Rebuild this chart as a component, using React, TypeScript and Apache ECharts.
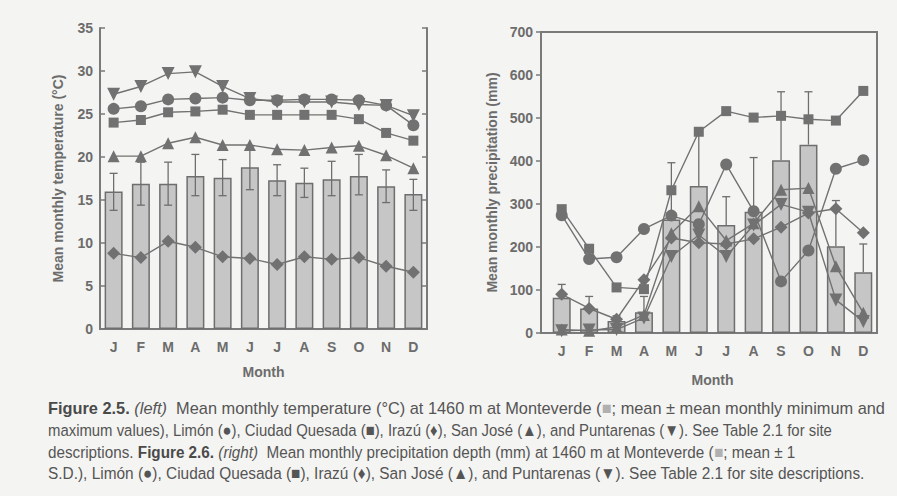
import React, { useEffect, useRef } from "react";
import * as echarts from "echarts";

const months = ["J", "F", "M", "A", "M", "J", "J", "A", "S", "O", "N", "D"];
const tempTicks = [0, 5, 10, 15, 20, 25, 30, 35];
const precipTicks = [0, 100, 200, 300, 400, 500, 600, 700];

// Figure 2.5 — temperature (°C)
const monteverdeTempMean = [16.0, 16.9, 16.9, 17.8, 17.6, 18.8, 17.3, 17.0, 17.4, 17.8, 16.6, 15.7];
const monteverdeTempMax = [18.1, 19.4, 19.4, 20.3, 19.7, 21.3, 19.1, 18.7, 19.5, 20.3, 18.5, 17.4];
const monteverdeTempMin = [13.8, 14.4, 14.4, 15.5, 15.5, 16.2, 15.5, 15.3, 15.5, 15.6, 14.7, 13.8];
const limonTemp = [25.6, 25.9, 26.7, 26.8, 26.9, 26.6, 26.6, 26.7, 26.7, 26.6, 26.0, 23.7];
const quesadaTemp = [24.0, 24.3, 25.2, 25.3, 25.5, 24.9, 24.9, 24.9, 24.9, 24.4, 22.8, 21.9];
const irazuTemp = [8.8, 8.3, 10.2, 9.5, 8.4, 8.2, 7.5, 8.4, 8.1, 8.3, 7.3, 6.6];
const sanJoseTemp = [20.1, 20.1, 21.6, 22.3, 21.4, 21.4, 20.9, 20.8, 21.1, 21.3, 20.2, 18.7];
const puntarenasTemp = [27.3, 28.2, 29.7, 29.9, 28.2, 26.8, 26.4, 26.4, 26.4, 26.1, 26.0, 24.8];

// Figure 2.6 — precipitation (mm)
const monteverdePrecipMean = [82, 57, 28, 48, 264, 342, 251, 282, 402, 438, 202, 141];
const monteverdePrecipUpper = [113, 85, 40, 85, 396, 470, 317, 408, 561, 561, 308, 207];
const limonPrecip = [274, 172, 176, 242, 273, 253, 392, 283, 120, 192, 382, 402];
const quesadaPrecip = [288, 196, 106, 102, 332, 468, 516, 501, 505, 497, 494, 563];
const irazuPrecip = [90, 57, 32, 124, 221, 210, 207, 219, 246, 279, 289, 233];
const sanJosePrecip = [8, 5, 14, 42, 232, 295, 215, 255, 333, 337, 155, 47];
const puntarenasPrecip = [5, 7, 8, 35, 178, 228, 178, 251, 299, 281, 77, 27];

const captionLines = [
  "{b|Figure 2.5.} {i|(left)}  Mean monthly temperature (°C) at 1460 m at Monteverde ({g|■}; mean ± mean monthly minimum and",
  "maximum values), Limón (●), Ciudad Quesada (■), Irazú (♦), San José (▲), and Puntarenas (▼). See Table 2.1 for site",
  "descriptions. {b|Figure 2.6.} {i|(right)}  Mean monthly precipitation depth (mm) at 1460 m at Monteverde ({g|■}; mean ± 1",
  "S.D.), Limón (●), Ciudad Quesada (■), Irazú (♦), San José (▲), and Puntarenas (▼). See Table 2.1 for site descriptions.",
];
const captionWidths = [837, 785, 747, 817];

const INK = "#6c6c6c";
const AXIS = "#7a7a7a";
const BAR = "#c6c6c6";
const FONT = '"Liberation Sans", Arial, sans-serif';
const CAPFONT = '"Liberation Sans", Arial, sans-serif';
const CAPSIZE = 17;

const labelStyle = { color: INK, fontFamily: FONT, fontWeight: "bold" as const, fontSize: 14 };

function lineSeries(name: string, data: number[], symbol: string, size: number, xi: number, yi: number, rotate = 0) {
  return {
    type: "line",
    name,
    data,
    xAxisIndex: xi,
    yAxisIndex: yi,
    symbol,
    symbolSize: size,
    symbolRotate: rotate,
    lineStyle: { color: "#727272", width: 1.4 },
    itemStyle: { color: "#717171" },
    z: 5,
  };
}

function errRender(bothCaps: boolean) {
  return (params: any, api: any) => {
    const i = api.value(0);
    const lo = api.coord([i, api.value(1)]);
    const hi = api.coord([i, api.value(2)]);
    const w = 4;
    const st = { stroke: "#6e6e6e", lineWidth: 1.3 };
    const children: any[] = [
      { type: "line", shape: { x1: lo[0], y1: lo[1], x2: hi[0], y2: hi[1] }, style: st },
      { type: "line", shape: { x1: hi[0] - w, y1: hi[1], x2: hi[0] + w, y2: hi[1] }, style: st },
    ];
    if (bothCaps) {
      children.push({ type: "line", shape: { x1: lo[0] - w, y1: lo[1], x2: lo[0] + w, y2: lo[1] }, style: st });
    }
    return { type: "group", children };
  };
}

function measureLine(ctx: CanvasRenderingContext2D, line: string) {
  let w = 0;
  const re = /\{(\w)\|([^}]*)\}/g;
  let last = 0;
  let m: RegExpExecArray | null;
  const seg = (txt: string, kind: string) => {
    const weight = kind === "b" ? "bold " : "";
    const style = kind === "i" ? "italic " : "";
    ctx.font = `${style}${weight}${CAPSIZE}px ${CAPFONT}`;
    w += ctx.measureText(txt).width;
  };
  while ((m = re.exec(line))) {
    seg(line.slice(last, m.index), "");
    seg(m[2], m[1]);
    last = m.index + m[0].length;
  }
  seg(line.slice(last), "");
  return w;
}

export default function App() {
  const ref = useRef<HTMLDivElement>(null);
  useEffect(() => {
    document.body.style.margin = "0";
    document.body.style.background = "#f4f4f2";
    const chart = echarts.init(ref.current!, null, { renderer: "svg" });
    const ctx = document.createElement("canvas").getContext("2d")!;
    const scales = captionLines.map((line, k) => {
      const w = measureLine(ctx, line);
      return w > 0 ? captionWidths[k] / w : 0.85;
    });
    const tickLabelOff = { show: false };
    const option: any = {
      animation: false,
      backgroundColor: "#f4f4f2",
      grid: [
        { left: 100, top: 28, width: 327, height: 301, containLabel: false },
        { left: 548, top: 32, width: 329, height: 301, containLabel: false },
        { left: 541, top: 32, width: 336, height: 301, show: true, borderColor: AXIS, borderWidth: 2, backgroundColor: "transparent" },
      ],
      xAxis: [
        {
          type: "category", gridIndex: 0, data: months, position: "bottom",
          axisLine: { lineStyle: { color: AXIS, width: 2 } },
          axisTick: { inside: true, alignWithLabel: true, length: 5, lineStyle: { color: AXIS, width: 1.5 } },
          axisLabel: { ...labelStyle, margin: 11 },
          name: "Month", nameLocation: "middle", nameGap: 36,
          nameTextStyle: { ...labelStyle, fontSize: 14 },
        },
        {
          type: "category", gridIndex: 0, data: months, position: "top",
          axisLine: { lineStyle: { color: AXIS, width: 2 } },
          axisTick: { inside: true, alignWithLabel: true, length: 5, lineStyle: { color: AXIS, width: 1.5 } },
          axisLabel: tickLabelOff,
        },
        {
          type: "category", gridIndex: 1, data: months, position: "bottom",
          axisLine: { show: false },
          axisTick: { inside: false, alignWithLabel: true, length: 5, lineStyle: { color: AXIS, width: 1.5 } },
          axisLabel: { ...labelStyle, margin: 11 },
          name: "Month", nameLocation: "middle", nameGap: 40,
          nameTextStyle: { ...labelStyle, fontSize: 14 },
        },
        { type: "value", gridIndex: 2, show: false, min: 0, max: 1 },
      ],
      yAxis: [
        {
          type: "value", gridIndex: 0, min: tempTicks[0], max: tempTicks[tempTicks.length - 1], interval: 5, position: "left",
          axisLine: { show: true, lineStyle: { color: AXIS, width: 2 } },
          axisTick: { show: true, inside: true, length: 5, lineStyle: { color: AXIS, width: 1.5 } },
          axisLabel: { ...labelStyle, margin: 7 },
          splitLine: { show: false },
          name: "Mean monthly temperature (°C)", nameLocation: "middle", nameGap: 35,
          nameTextStyle: { ...labelStyle, fontSize: 14 },
        },
        {
          type: "value", gridIndex: 0, min: tempTicks[0], max: tempTicks[tempTicks.length - 1], interval: 5, position: "right",
          axisLine: { show: true, lineStyle: { color: AXIS, width: 2 } },
          axisTick: { show: true, inside: true, length: 5, lineStyle: { color: AXIS, width: 1.5 } },
          axisLabel: tickLabelOff,
          splitLine: { show: false },
        },
        {
          type: "value", gridIndex: 1, min: precipTicks[0], max: precipTicks[precipTicks.length - 1], interval: 100, position: "left", offset: 7,
          axisLine: { show: false },
          axisTick: { show: true, inside: false, length: 5, lineStyle: { color: AXIS, width: 1.5 } },
          axisLabel: { ...labelStyle, margin: 8 },
          splitLine: { show: false },
          name: "Mean monthly precipitation (mm)", nameLocation: "middle", nameGap: 42,
          nameTextStyle: { ...labelStyle, fontSize: 14 },
        },
        { type: "value", gridIndex: 2, show: false, min: 0, max: 1 },
      ],
      series: [
        {
          type: "bar", name: "Monteverde", data: monteverdeTempMean, xAxisIndex: 0, yAxisIndex: 0, barWidth: 18,
          itemStyle: { color: BAR, borderColor: "#6e6e6e", borderWidth: 1.5 }, z: 2,
        },
        {
          type: "custom", name: "Monteverde range", xAxisIndex: 0, yAxisIndex: 0, z: 3,
          data: months.map((_, i) => [i, monteverdeTempMin[i], monteverdeTempMax[i]]),
          encode: { x: 0, y: [1, 2] }, renderItem: errRender(true),
        },
        lineSeries("Puntarenas", puntarenasTemp, "triangle", 13, 0, 0, 180),
        lineSeries("Limón", limonTemp, "circle", 12, 0, 0),
        lineSeries("Ciudad Quesada", quesadaTemp, "rect", 10, 0, 0),
        lineSeries("San José", sanJoseTemp, "triangle", 12, 0, 0),
        lineSeries("Irazú", irazuTemp, "diamond", 13, 0, 0),
        {
          type: "bar", name: "Monteverde", data: monteverdePrecipMean, xAxisIndex: 2, yAxisIndex: 2, barWidth: 18,
          itemStyle: { color: BAR, borderColor: "#6e6e6e", borderWidth: 1.5 }, z: 2,
        },
        {
          type: "custom", name: "Monteverde SD", xAxisIndex: 2, yAxisIndex: 2, z: 3,
          data: months.map((_, i) => [i, monteverdePrecipMean[i], monteverdePrecipUpper[i]]),
          encode: { x: 0, y: [1, 2] }, renderItem: errRender(false),
        },
        lineSeries("Ciudad Quesada", quesadaPrecip, "rect", 10, 2, 2),
        lineSeries("Limón", limonPrecip, "circle", 12, 2, 2),
        lineSeries("Irazú", irazuPrecip, "diamond", 13, 2, 2),
        lineSeries("San José", sanJosePrecip, "triangle", 12, 2, 2),
        lineSeries("Puntarenas", puntarenasPrecip, "triangle", 13, 2, 2, 180),
      ],
      graphic: captionLines.map((t, k) => ({
        type: "text",
        x: 48,
        y: 408 + k * 21.7,
        scaleX: scales[k],
        originX: 0,
        silent: true,
        style: {
          text: t,
          fill: "#555555",
          fontFamily: CAPFONT,
          fontSize: CAPSIZE,
          verticalAlign: "middle",
          align: "left",
          rich: {
            b: { fontFamily: CAPFONT, fontWeight: "bold", fontSize: CAPSIZE, fill: "#4a4a4a" },
            i: { fontFamily: CAPFONT, fontStyle: "italic", fontSize: CAPSIZE, fill: "#555555" },
            g: { fontFamily: CAPFONT, fontSize: CAPSIZE, fill: "#b0b0b0" },
          },
        },
      })),
    };
    chart.setOption(option);
    return () => chart.dispose();
  }, []);
  return <div ref={ref} style={{ position: "fixed", left: 0, top: 0, width: 897, height: 496 }} />;
}
